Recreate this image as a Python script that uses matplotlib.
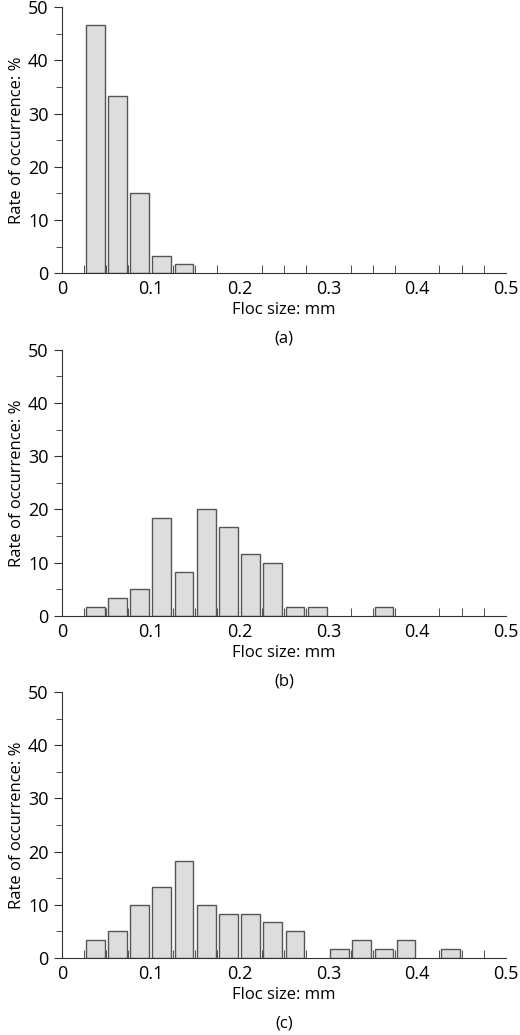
import matplotlib
matplotlib.use("Agg")
import matplotlib.pyplot as plt
import numpy as np

plt.rcParams['font.family'] = ['Open Sans', 'DejaVu Sans']

bin_width = 0.025
bins_a = [0.0375, 0.0625, 0.0875, 0.1125, 0.1375]
vals_a = [46.7, 33.3, 15.0, 3.3, 1.7]
bins_b = [0.0375, 0.0625, 0.0875, 0.1125, 0.1375, 0.1625, 0.1875, 0.2125, 0.2375, 0.2625, 0.2875, 0.3625]
vals_b = [1.7, 3.3, 5.0, 18.3, 8.3, 20.0, 16.7, 11.7, 10.0, 1.7, 1.7, 1.7]
bins_c = [0.0375, 0.0625, 0.0875, 0.1125, 0.1375, 0.1625, 0.1875, 0.2125, 0.2375, 0.2625,
          0.3125, 0.3375, 0.3625, 0.3875, 0.4375]
vals_c = [3.3, 5.0, 10.0, 13.3, 18.3, 10.0, 8.3, 8.3, 6.7, 5.0, 1.7, 3.3, 1.7, 3.3, 1.7]
labels = ['(a)', '(b)', '(c)']
panels = [(bins_a, vals_a), (bins_b, vals_b), (bins_c, vals_c)]

fig = plt.figure(figsize=(5.2, 10.35), dpi=100)
bottoms = [0.736, 0.405, 0.0744]
for (x, y), lab, b in zip(panels, labels, bottoms):
    ax = fig.add_axes([0.119, b, 0.854, 0.257])
    ax.bar(x, y, width=0.021, color='#dcdddc', edgecolor='#555555', linewidth=1.0, zorder=2)
    ax.set_xlim(0, 0.5)
    ax.set_ylim(0, 50)
    for s in ['top', 'right']:
        ax.spines[s].set_visible(False)
    ax.spines['left'].set_color('#333333')
    ax.spines['bottom'].set_color('#333333')
    ax.set_xticks(np.arange(0, 0.51, 0.1))
    ax.set_xticklabels(['0', '0.1', '0.2', '0.3', '0.4', '0.5'])
    ax.set_xticks(np.arange(0.025, 0.501, 0.025), minor=True)
    ax.tick_params(axis='x', which='major', length=0, labelsize=13, pad=5)
    ax.tick_params(axis='x', which='minor', direction='in', length=6, color='#333333')
    ax.set_yticks(range(0, 51, 10))
    ax.set_yticks(range(5, 51, 10), minor=True)
    ax.tick_params(axis='y', which='major', direction='out', length=6, labelsize=13, color='#333333')
    ax.tick_params(axis='y', which='minor', direction='out', length=4, color='#333333')
    ax.set_xlabel('Floc size: mm', fontsize=12, labelpad=3)
    ax.set_ylabel('Rate of occurrence: %', fontsize=12, labelpad=2)
    ax.text(0.5, -0.215, lab, transform=ax.transAxes, ha='center', va='top', fontsize=12)

fig.savefig('out.png', dpi=100)
